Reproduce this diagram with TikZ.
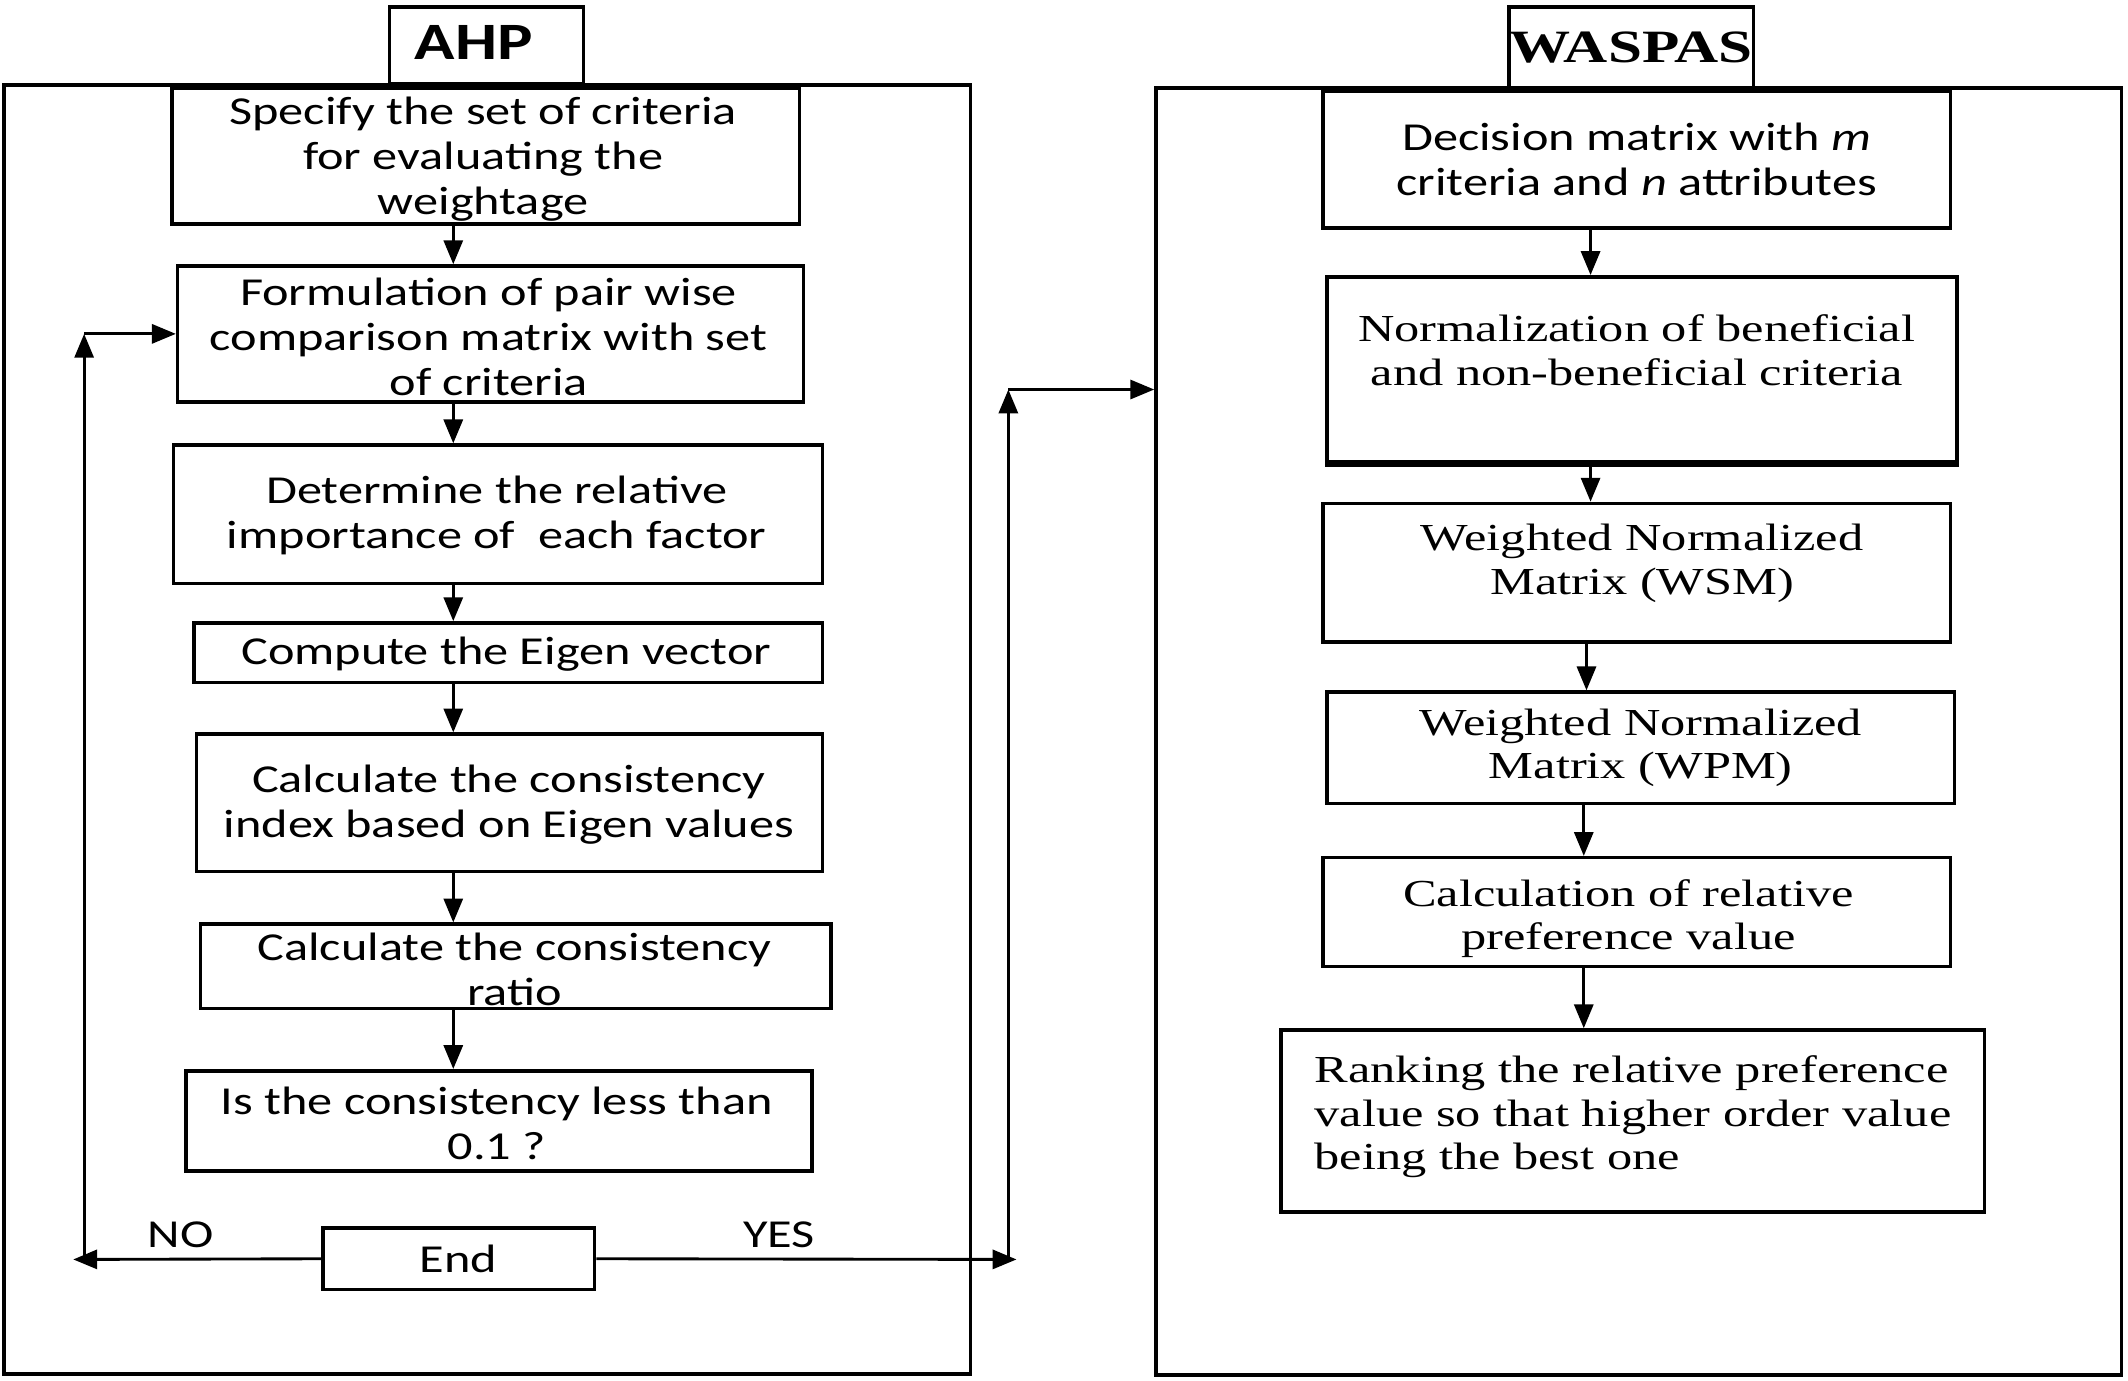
\documentclass[tikz,border=0pt]{standalone}
\usepackage{fontspec}
\setmainfont{Carlito}
\newfontfamily\sansf{Carlito}[FakeStretch=1.27]
\newfontfamily\serf{Liberation Serif}[FakeStretch=1.32]
\usetikzlibrary{arrows.meta}
\begin{document}
\begin{tikzpicture}[x=0.01cm,y=-0.01cm,
  box/.style={draw, line width=0.75pt, inner sep=0pt, align=center, font=\sansf\fontsize{8.3}{9.4}\selectfont},
  sbox/.style={box, font=\serf\fontsize{8}{9.1}\selectfont},
  frame/.style={draw, line width=0.75pt, inner sep=0pt},
  stxt/.style={inner sep=0pt, align=center, font=\serf\fontsize{8}{9.1}\selectfont},
  lbl/.style={inner sep=0pt, font=\sansf\fontsize{8.3}{9.4}\selectfont},
  arr/.style={-{Triangle[length=5pt,width=4pt]}, line width=0.6pt}]
\useasboundingbox (0,0) rectangle (1568,1017);
% frames
\node[frame, minimum width=7.12cm, minimum height=9.49cm] (lf) at (359,537.5) {};
\node[frame, minimum width=7.11cm, minimum height=9.48cm] (rf) at (1207.5,539) {};
% titles
\node[box, fill=white, minimum width=1.43cm, minimum height=0.57cm] (ahp) at (358.5,33.5) {};
\node[lbl, font=\sansf\bfseries\fontsize{11}{12}\selectfont] (ahpt) at (349,31) {AHP};
\node[box, fill=white, minimum width=1.80cm, minimum height=0.60cm, font=\serf\bfseries\fontsize{9.7}{11}\selectfont] (was) at (1202,35) {WASPAS};
% AHP boxes
\node[box, minimum width=4.62cm, minimum height=1.00cm] (a1) at (358,115) {};
\node[lbl, align=center] (a1t) at (356,117) {Specify the set of criteria\\for evaluating the\\weightage};
\node[box, minimum width=4.61cm, minimum height=1.00cm] (a2) at (361.5,246) {};
\node[lbl, align=center] (a2t) at (360,248) {Formulation of pair wise\\comparison matrix with set\\of criteria};
\node[box, minimum width=4.78cm, minimum height=1.02cm] (a3) at (367,379) {};
\node[lbl, align=center] (a3t) at (366,380) {Determine the relative\\importance of\ \ each factor};
\node[box, minimum width=4.63cm, minimum height=0.44cm] (a4) at (374.5,481) {};
\node[lbl] (a4t) at (373,482) {Compute the Eigen vector};
\node[box, minimum width=4.61cm, minimum height=1.01cm] (a5) at (375.5,591.5) {};
\node[lbl, align=center] (a5t) at (375,593) {Calculate the consistency\\index based on Eigen values};
\node[box, minimum width=4.64cm, minimum height=0.62cm] (a6) at (380,712) {};
\node[lbl, align=center] (a6t) at (379,714) {Calculate the consistency\\ratio};
\node[box, minimum width=4.61cm, minimum height=0.74cm] (a7) at (367.5,826) {};
\node[lbl, align=center] (a7t) at (366,828) {Is the consistency less than\\0.1 ?};
\node[box, minimum width=2.00cm, minimum height=0.45cm] (end) at (338,927.5) {End};
\node[lbl] (no) at (133,910) {NO};
\node[lbl] (yes) at (574,910) {YES};
% WASPAS boxes
\node[box, minimum width=4.62cm, minimum height=1.01cm] (w1) at (1206,117.5) {Decision matrix with \textit{m}\\criteria and \textit{n} attributes};
\node[sbox, minimum width=4.64cm, minimum height=1.36cm] (w2) at (1210,272) {};
\draw[line width=1.4pt] (w2.south west) -- (w2.south east);
\node[stxt] (w2t) at (1206,258) {Normalization of beneficial\\and non-beneficial criteria};
\node[sbox, minimum width=4.62cm, minimum height=1.02cm] (w3) at (1206,422) {};
\node[stxt] (w3t) at (1210,415) {Weighted Normalized\\Matrix (WSM)};
\node[sbox, minimum width=4.62cm, minimum height=0.82cm] (w4) at (1209,551) {Weighted Normalized\\Matrix (WPM)};
\node[sbox, minimum width=4.62cm, minimum height=0.80cm] (w5) at (1206,672) {};
\node[stxt] (w5t) at (1200,677) {Calculation of relative\\preference value};
\node[sbox, minimum width=5.18cm, minimum height=1.34cm] (w6) at (1203,826) {};
\node[stxt, align=left, anchor=west] (w6t) at (968,823) {Ranking the relative preference\\value so that higher order value\\being the best one};
% arrow columns
\coordinate (xa) at (334,0);
\coordinate (xb) at (1172,0);
\coordinate (xc) at (1169,0);
\coordinate (xd) at (1167,0);
\draw[arr] (a1.south -| xa) -- (a2.north -| xa);
\draw[arr] (a2.south -| xa) -- (a3.north -| xa);
\draw[arr] (a3.south -| xa) -- (a4.north -| xa);
\draw[arr] (a4.south -| xa) -- (a5.north -| xa);
\draw[arr] (a5.south -| xa) -- (a6.north -| xa);
\draw[arr] (a6.south -| xa) -- (a7.north -| xa);
\draw[arr] (w1.south -| xb) -- (w2.north -| xb);
\draw[arr] (w2.south -| xb) -- (w3.north -| xb);
\draw[arr] (w3.south -| xc) -- (w4.north -| xc);
\draw[arr] (w4.south -| xd) -- (w5.north -| xd);
\draw[arr] (w5.south -| xd) -- (w6.north -| xd);
% NO loop
\coordinate (nol) at (54,928);
\coordinate (nob) at (62,928);
\coordinate (notp) at (62,246);
\draw[arr] (end.west) -- (nol);
\draw[arr] (nob) -- (notp);
\draw[arr] (notp) -- (a2.west);
% YES path
\coordinate (yr) at (749,928);
\coordinate (yb) at (743,928);
\coordinate (yt) at (743,287);
\draw[arr] (end.east) -- (yr);
\draw[arr] (yb) -- (yt);
\draw[arr] (yt) -- (yt -| rf.west);
\end{tikzpicture}
\end{document}
